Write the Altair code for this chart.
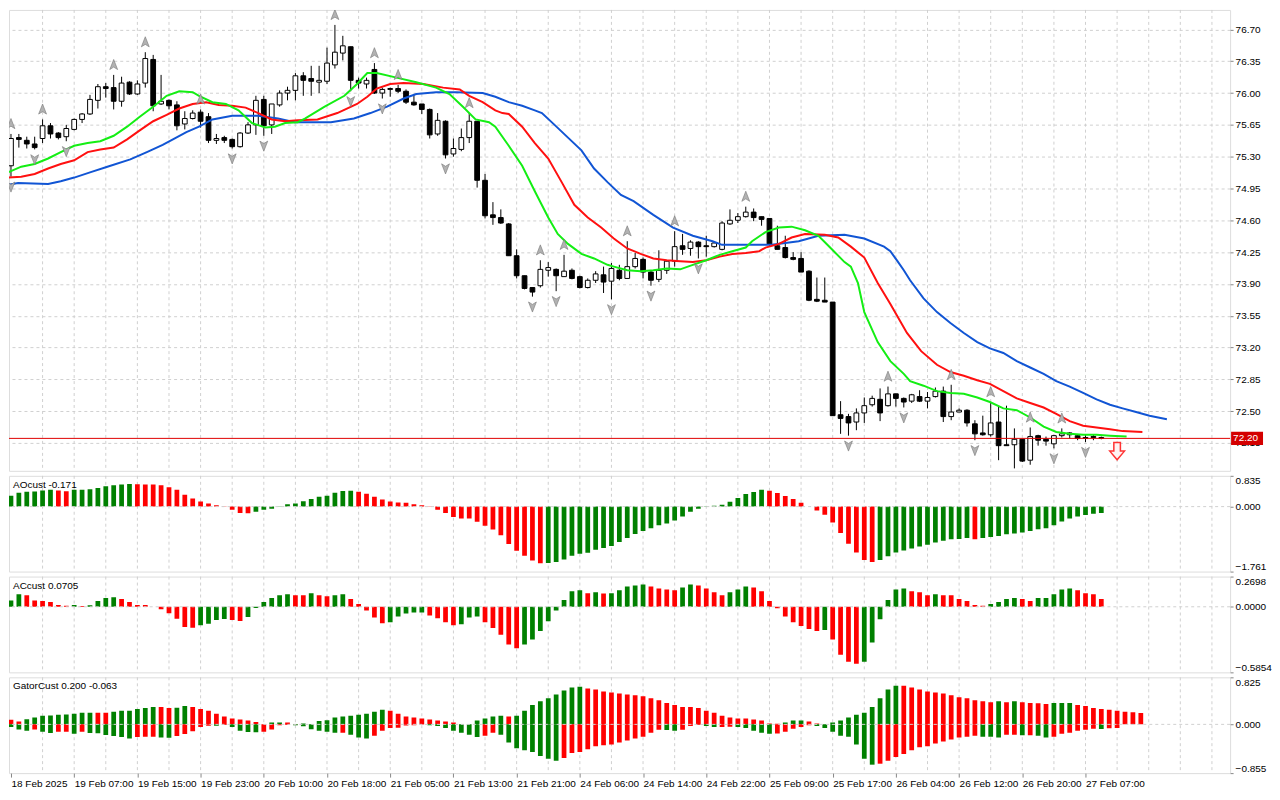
import altair as alt
import pandas as pd

# ---------------- data ----------------
OPEN = [75.20,75.51,75.48,75.44,75.50,75.64,75.56,75.52,75.60,75.71,
        75.77,75.92,76.07,76.06,75.91,76.12,75.99,76.11,76.37,75.88,
        75.92,75.87,75.66,75.72,75.79,75.74,75.48,75.51,75.49,75.41,
        75.56,75.65,75.93,75.65,75.87,76.00,76.03,76.19,76.16,76.12,
        76.13,76.31,76.44,76.51,76.14,76.10,76.26,76.00,76.04,76.05,
        76.02,75.90,75.88,75.82,75.55,75.69,75.33,75.38,75.51,75.69,
        75.04,74.66,74.63,74.56,74.21,73.99,73.86,73.88,74.05,74.06,
        73.98,74.05,73.98,73.86,73.94,74.00,73.93,74.05,73.96,74.09,
        74.17,74.03,73.95,74.05,74.15,74.32,74.29,74.36,74.32,74.31,
        74.28,74.56,74.60,74.64,74.69,74.64,74.62,74.32,74.30,74.19,
        74.18,74.04,73.73,73.72,73.70,72.46,72.44,72.38,72.48,72.57,
        72.63,72.56,72.69,72.64,72.61,72.66,72.61,72.66,72.72,72.44,
        72.49,72.51,72.36,72.26,72.24,72.38,72.13,72.13,72.19,71.96,
        72.23,72.19,72.14,72.23,72.24,72.23,72.21,72.22,72.21]
HIGH = [75.55,75.55,75.52,75.52,75.71,75.67,75.57,75.65,75.72,75.78,
        75.98,76.10,76.11,76.20,76.18,76.13,76.14,76.45,76.42,76.20,
        75.93,75.91,75.80,75.81,75.82,75.78,75.55,75.53,75.50,75.57,
        75.68,75.97,75.97,75.88,76.03,76.07,76.22,76.23,76.30,76.30,
        76.50,76.75,76.63,76.51,76.17,76.17,76.33,76.06,76.06,76.09,
        76.04,75.99,75.88,75.83,75.78,75.70,75.50,75.61,75.78,75.69,
        75.11,74.80,74.72,74.57,74.28,73.99,73.86,74.16,74.14,74.07,
        74.22,74.07,73.99,73.96,74.04,74.09,74.13,74.11,74.37,74.24,
        74.19,74.05,74.27,74.16,74.48,74.45,74.38,74.37,74.43,74.37,
        74.59,74.72,74.68,74.75,74.73,74.64,74.62,74.54,74.43,74.25,
        74.25,74.05,73.97,73.97,73.70,72.61,72.47,72.53,72.65,72.67,
        72.75,72.77,72.69,72.65,72.69,72.73,72.71,72.76,72.77,72.79,
        72.53,72.52,72.40,72.45,72.60,72.56,72.56,72.31,72.19,72.32,
        72.24,72.22,72.24,72.31,72.27,72.24,72.24,72.24,72.22]
LOW = [75.08,75.40,75.39,75.38,75.45,75.50,75.49,75.47,75.59,75.67,
       75.76,75.83,75.95,75.82,75.85,75.98,75.98,76.06,75.80,75.87,
       75.82,75.59,75.60,75.71,75.62,75.45,75.44,75.45,75.39,75.40,
       75.55,75.54,75.53,75.55,75.85,75.92,75.92,75.97,75.97,76.00,
       76.10,76.27,76.36,76.02,76.05,76.05,75.99,75.94,75.96,76.00,
       75.88,75.86,75.77,75.50,75.53,75.28,75.30,75.36,75.45,74.96,
       74.62,74.55,74.56,74.21,73.96,73.84,73.76,73.86,73.98,73.82,
       73.98,73.95,73.85,73.85,73.91,73.80,73.73,73.94,73.96,74.07,
       73.96,73.88,73.92,74.01,74.09,74.22,74.21,74.18,74.20,74.30,
       74.27,74.55,74.57,74.63,74.59,74.54,74.32,74.28,74.18,74.16,
       74.03,73.71,73.70,73.70,72.45,72.25,72.23,72.29,72.37,72.55,
       72.39,72.55,72.55,72.54,72.59,72.60,72.53,72.65,72.38,72.40,
       72.49,72.33,72.18,72.23,72.22,71.96,72.12,71.87,71.94,71.91,
       72.12,72.12,72.09,72.21,72.20,72.18,72.16,72.18,72.19]
CLOSE = [75.50,75.49,75.44,75.40,75.64,75.55,75.51,75.61,75.71,75.77,
         75.93,76.07,76.05,75.91,76.11,75.99,76.10,76.38,75.86,75.91,
         75.86,75.64,75.72,75.78,75.69,75.48,75.50,75.48,75.41,75.56,
         75.65,75.92,75.64,75.88,76.00,76.03,76.19,76.14,76.13,76.14,
         76.33,76.45,76.52,76.14,76.11,76.14,76.00,76.04,76.05,76.02,
         75.90,75.87,75.82,75.54,75.70,75.32,75.39,75.51,75.69,75.04,
         74.65,74.63,74.57,74.21,73.99,73.85,73.81,74.06,74.08,73.99,
         74.04,73.96,73.86,73.94,74.01,73.92,74.07,73.96,74.09,74.18,
         74.03,73.94,74.05,74.15,74.31,74.28,74.36,74.31,74.31,74.35,
         74.57,74.60,74.64,74.69,74.63,74.61,74.34,74.28,74.19,74.17,
         74.03,73.72,73.71,73.70,72.45,72.42,72.37,72.48,72.56,72.64,
         72.48,72.69,72.64,72.60,72.68,72.61,72.65,72.72,72.44,72.49,
         72.51,72.37,72.25,72.24,72.37,72.12,72.12,72.19,71.95,72.22,
         72.18,72.17,72.23,72.25,72.26,72.20,72.20,72.21,72.20]

JAW_X = [-0.3,0.9,4.7,6.3,8.0,10.1,12.2,15.1,17.2,19.2,20.5,22.2,23.8,25.5,28.0,
         31.3,33.8,35.9,40.5,43.4,45.5,47.6,49.7,51.3,53.8,56.3,59.7,61.3,63.0,64.7,
         66.3,67.2,68.8,70.5,72.2,73.8,75.5,77.2,78.8,81.3,83.8,86.3,88.8,90.0,93.0,
         96.3,99.7,102.2,105.5,108.0,110.5,111.3,112.2,113.0,113.8,115.5,117.2,118.9,
         120.6,122.3,123.9,125.6,127.3,129.0,130.7,132.3,134.0,135.7,137.4,139.1,
         140.7,142.4,144.1,146.3]
JAW_Y = [74.99,75.01,75.00,75.03,75.07,75.13,75.19,75.27,75.35,75.43,75.49,75.57,75.63,75.71,75.75,
         75.75,75.72,75.68,75.68,75.72,75.78,75.85,75.94,75.99,76.01,76.01,76.00,75.96,75.90,75.86,
         75.81,75.78,75.65,75.51,75.37,75.17,75.02,74.88,74.81,74.66,74.52,74.43,74.37,74.33,74.33,
         74.33,74.37,74.43,74.44,74.40,74.31,74.26,74.15,74.05,73.94,73.74,73.59,73.47,
         73.36,73.26,73.19,73.14,73.05,72.98,72.91,72.83,72.77,72.70,72.63,72.57,
         72.53,72.49,72.45,72.41]
TEETH_X = [-0.3,1.3,3.0,4.7,6.3,8.0,9.7,11.3,13.0,14.7,16.3,18.0,19.7,21.3,23.0,
           24.7,26.3,28.0,29.7,31.3,33.0,34.7,36.3,38.8,41.3,43.8,45.1,46.3,48.0,49.7,
           52.2,54.7,56.8,58.0,59.7,61.3,62.2,63.0,64.7,66.3,68.0,69.7,71.3,73.0,74.7,
           76.3,78.0,79.7,81.3,83.0,84.7,86.3,88.0,89.7,91.3,93.0,94.7,95.5,97.2,98.8,
           100.5,103.0,104.7,106.3,108.0,109.7,111.3,113.4,115.2,117.2,118.9,120.6,
           122.3,123.9,125.6,127.3,129.0,130.7,132.3,134.0,135.7,137.4,139.1,140.7,143.2]
TEETH_Y = [75.07,75.08,75.11,75.17,75.22,75.26,75.35,75.38,75.40,75.49,75.59,75.69,75.76,75.83,75.88,
           75.90,75.87,75.86,75.84,75.78,75.71,75.69,75.70,75.71,75.78,75.88,75.96,76.05,76.10,76.11,
           76.10,76.06,76.04,75.97,75.90,75.81,75.78,75.77,75.63,75.45,75.28,75.02,74.77,74.63,74.52,
           74.40,74.29,74.23,74.18,74.16,74.15,74.14,74.16,74.20,74.23,74.24,74.26,74.30,74.34,74.41,
           74.45,74.44,74.41,74.31,74.19,73.91,73.68,73.36,73.16,73.01,72.93,72.89,
           72.84,72.80,72.72,72.64,72.59,72.54,72.47,72.39,72.34,72.32,72.30,72.28,72.27]
LIPS_X = [-0.3,1.3,3.0,4.7,6.3,8.0,9.7,11.3,13.0,14.7,16.3,18.0,19.7,21.3,23.0,
          23.8,25.5,27.2,28.8,30.5,32.2,33.4,34.7,36.3,37.2,39.7,42.2,43.8,45.1,46.3,
          48.8,51.3,53.8,55.5,57.2,58.8,60.5,61.3,63.0,64.7,66.3,68.0,69.2,70.5,72.2,
          73.8,75.5,76.3,78.0,79.7,81.3,83.0,84.7,86.3,88.0,89.7,91.3,93.0,93.8,95.5,
          97.2,98.8,100.5,102.2,103.8,105.5,106.3,107.2,108.0,109.7,111.3,113.0,113.8,
          115.5,117.2,118.9,120.6,122.3,123.9,125.6,127.3,129.0,130.7,132.3,134.0,
          135.7,137.4,139.1,141.2]
LIPS_Y = [75.13,75.19,75.22,75.28,75.35,75.42,75.45,75.47,75.53,75.63,75.74,75.85,75.97,76.02,76.01,
          75.97,75.90,75.88,75.81,75.67,75.62,75.63,75.67,75.68,75.72,75.85,75.97,76.10,76.22,76.22,
          76.17,76.12,76.06,75.99,75.85,75.71,75.68,75.63,75.42,75.20,74.92,74.63,74.45,74.34,74.23,
          74.18,74.11,74.09,74.05,74.04,74.05,74.07,74.06,74.11,74.16,74.22,74.26,74.30,74.37,74.47,
          74.52,74.53,74.49,74.43,74.29,74.14,74.09,73.91,73.59,73.26,73.05,72.91,72.83,
          72.78,72.72,72.70,72.69,72.65,72.60,72.53,72.51,72.43,72.33,72.27,72.25,
          72.24,72.24,72.23,72.22]

FRACTAL_UP = [0,4,13,17,24,41,46,49,58,67,70,78,84,93,111,119,124,129,133]
FRACTAL_DN = [0,3,7,28,32,43,47,55,66,69,76,81,87,106,113,122,127,132,136]

AO = [0.297,0.376,0.402,0.411,0.437,0.455,0.437,0.420,0.455,0.460,
      0.470,0.507,0.550,0.577,0.603,0.612,0.607,0.603,0.598,0.577,
      0.524,0.455,0.323,0.219,0.140,0.087,0.035,0.009,-0.087,-0.175,
      -0.178,-0.140,-0.087,-0.060,-0.005,0.061,0.087,0.149,0.210,0.270,
      0.297,0.376,0.425,0.432,0.400,0.350,0.270,0.192,0.140,0.114,
      0.105,0.061,0.035,0.010,-0.087,-0.175,-0.280,-0.323,-0.325,-0.410,
      -0.516,-0.620,-0.778,-1.014,-1.198,-1.329,-1.460,-1.535,-1.528,-1.503,
      -1.434,-1.329,-1.276,-1.250,-1.171,-1.119,-1.066,-0.962,-0.848,-0.743,
      -0.664,-0.586,-0.507,-0.455,-0.376,-0.271,-0.140,-0.061,-0.005,0.026,
      0.052,0.131,0.236,0.341,0.393,0.455,0.428,0.367,0.288,0.210,
      0.105,0.005,-0.105,-0.219,-0.428,-0.716,-1.005,-1.241,-1.450,-1.503,
      -1.450,-1.346,-1.241,-1.189,-1.136,-1.084,-1.031,-0.970,-0.927,-0.883,
      -0.880,-0.848,-0.883,-0.848,-0.822,-0.795,-0.752,-0.726,-0.700,-0.664,
      -0.612,-0.586,-0.507,-0.402,-0.323,-0.271,-0.225,-0.190,-0.171]
AC = [0.057,0.112,0.103,0.057,0.052,0.043,0.017,0.009,0.017,0.006,
      0.014,0.052,0.078,0.086,0.069,0.043,0.017,0.016,0.000,-0.023,
      -0.057,-0.106,-0.181,-0.187,-0.164,-0.152,-0.118,-0.109,-0.118,-0.126,
      -0.092,-0.011,0.043,0.078,0.103,0.112,0.103,0.102,0.121,0.103,
      0.095,0.103,0.112,0.069,0.026,-0.034,-0.095,-0.147,-0.138,-0.086,
      -0.060,-0.052,-0.051,-0.078,-0.103,-0.138,-0.164,-0.155,-0.095,-0.086,
      -0.138,-0.190,-0.250,-0.336,-0.371,-0.336,-0.293,-0.216,-0.129,-0.034,
      0.060,0.138,0.147,0.121,0.129,0.119,0.122,0.147,0.181,0.190,
      0.198,0.181,0.164,0.155,0.147,0.172,0.198,0.190,0.164,0.129,
      0.103,0.129,0.155,0.181,0.172,0.138,0.052,-0.014,-0.086,-0.138,
      -0.172,-0.198,-0.216,-0.207,-0.293,-0.428,-0.491,-0.509,-0.491,-0.319,
      -0.112,0.060,0.155,0.164,0.138,0.129,0.103,0.112,0.103,0.102,
      0.069,0.052,0.017,0.009,0.026,0.043,0.069,0.078,0.069,0.052,
      0.078,0.079,0.112,0.155,0.164,0.147,0.121,0.112,0.0705]
GATOR_UP = [0.079,0.051,0.090,0.119,0.153,0.155,0.170,0.171,0.187,0.204,
            0.205,0.203,0.202,0.220,0.238,0.240,0.270,0.288,0.305,0.304,
            0.288,0.290,0.322,0.305,0.270,0.238,0.187,0.136,0.102,0.085,
            0.068,0.040,0.002,0.034,0.035,0.034,0.005,0.017,0.003,0.057,
            0.074,0.119,0.136,0.153,0.170,0.187,0.220,0.255,0.238,0.187,
            0.136,0.119,0.102,0.085,0.068,0.051,0.034,0.003,0.002,0.068,
            0.102,0.136,0.153,0.136,0.153,0.238,0.339,0.407,0.458,0.526,
            0.594,0.645,0.662,0.628,0.611,0.577,0.560,0.543,0.526,0.509,
            0.492,0.458,0.424,0.373,0.339,0.305,0.304,0.288,0.238,0.204,
            0.153,0.119,0.102,0.101,0.085,0.068,0.017,0.010,0.034,0.068,
            0.069,0.051,0.017,0.003,0.034,0.068,0.119,0.170,0.204,0.305,
            0.458,0.611,0.679,0.678,0.645,0.611,0.577,0.560,0.543,0.509,
            0.475,0.458,0.424,0.407,0.390,0.407,0.390,0.407,0.390,0.373,
            0.372,0.356,0.373,0.374,0.375,0.339,0.322,0.288,0.271,0.255,
            0.238,0.220,0.212,0.200]
GATOR_DN = [-0.045,-0.090,-0.113,-0.090,-0.130,-0.153,-0.130,-0.129,-0.164,-0.130,
            -0.153,-0.154,-0.187,-0.204,-0.220,-0.249,-0.220,-0.219,-0.218,-0.232,
            -0.233,-0.204,-0.170,-0.119,-0.045,-0.023,-0.024,-0.011,-0.045,-0.113,
            -0.136,-0.137,-0.130,-0.090,-0.017,-0.011,-0.017,-0.034,-0.085,-0.113,
            -0.130,-0.147,-0.146,-0.181,-0.232,-0.249,-0.198,-0.113,-0.062,-0.061,
            -0.020,-0.017,-0.003,-0.017,-0.028,-0.062,-0.113,-0.147,-0.181,-0.220,
            -0.198,-0.147,-0.181,-0.317,-0.419,-0.452,-0.486,-0.554,-0.605,-0.639,
            -0.588,-0.503,-0.486,-0.435,-0.385,-0.368,-0.351,-0.317,-0.283,-0.249,
            -0.215,-0.147,-0.096,-0.097,-0.113,-0.096,-0.028,-0.011,-0.028,-0.045,
            -0.044,-0.043,-0.045,-0.062,-0.113,-0.147,-0.164,-0.160,-0.130,-0.079,
            -0.045,-0.017,-0.028,-0.062,-0.130,-0.198,-0.215,-0.351,-0.605,-0.707,
            -0.690,-0.639,-0.571,-0.520,-0.452,-0.402,-0.385,-0.334,-0.300,-0.266,
            -0.232,-0.215,-0.198,-0.215,-0.216,-0.232,-0.181,-0.180,-0.192,-0.190,
            -0.198,-0.232,-0.215,-0.164,-0.147,-0.113,-0.096,-0.079,-0.080,-0.066,
            -0.063]

TIME_LABELS = ["18 Feb 2025","19 Feb 07:00","19 Feb 15:00","19 Feb 23:00","20 Feb 10:00",
               "20 Feb 18:00","21 Feb 05:00","21 Feb 13:00","21 Feb 21:00","24 Feb 06:00",
               "24 Feb 14:00","24 Feb 22:00","25 Feb 09:00","25 Feb 17:00","26 Feb 04:00",
               "26 Feb 12:00","26 Feb 20:00","27 Feb 07:00"]
LABEL_IDX = list(range(0, 137, 8))
GRID_IDX = list(range(4, 155, 4))
PRICE_TICKS = [72.15,72.50,72.85,73.20,73.55,73.90,74.25,74.60,74.95,75.30,75.65,76.00,76.35,76.70]
LAST_PRICE = 72.20
SIGNAL_IDX = [140]
SIGNAL_PRICE = [72.06]
AO_RANGE = [-1.761, 0.835]
AC_RANGE = [-0.5854, 0.2698]
GATOR_RANGE = [-0.855, 0.825]

# ---------------- styling ----------------
FONT = "Liberation Sans"
GRID = "#d0d0d0"
GREEN = "#008000"
RED = "#ff0000"
W = 1224
HM = 462
HS = 96
HALF = 0.3

xs = alt.Scale(domain=[-0.25, 154.3], nice=False, zero=False)
ys = alt.Scale(domain=[71.843, 76.915], nice=False, zero=False)
Y_AX = alt.Axis(orient="right", values=PRICE_TICKS, format=".2f", grid=True,
                gridColor=GRID, gridDash=[3, 3], tickSize=3, labelPadding=2,
                domain=False, labelFontSize=10, title=None)

def Y(field):
    return alt.Y(field, scale=ys, axis=Y_AX, title=None)

def X(field):
    return alt.X(field, scale=xs, axis=None, title=None)

# ---------------- frames ----------------
n = len(OPEN)
cd = pd.DataFrame({"i": range(n), "o": OPEN, "h": HIGH, "l": LOW, "c": CLOSE})
cd["top"] = cd[["o", "c"]].max(axis=1)
cd["bot"] = cd[["o", "c"]].min(axis=1)
cd["x0"] = cd["i"] - HALF
cd["x1"] = cd["i"] + HALF

grid_df = pd.DataFrame({"g": GRID_IDX})
fup = cd.loc[FRACTAL_UP, ["i", "h"]]
fdn = cd.loc[FRACTAL_DN, ["i", "l"]]

def colored(vals, use_abs=False, first="g"):
    df = pd.DataFrame({"i": range(len(vals)), "v": vals})
    m = df["v"].abs() if use_abs else df["v"]
    col = ["g" if m.iloc[k] > m.iloc[k - 1] else "r" for k in range(1, len(m))]
    df["col"] = [first] + col
    df["x0"] = df["i"] - HALF
    df["x1"] = df["i"] + HALF
    df["z"] = 0.0
    return df

ao_df = colored(AO)
ac_df = colored(AC)
gu_df = colored(GATOR_UP, use_abs=True, first="r")
gd_df = colored(GATOR_DN, use_abs=True, first="g")

UP_ARROW = "M0,-1L0.72,0.85L0,0.4L-0.72,0.85Z"
DN_ARROW = "M0,1L0.72,-0.85L0,-0.4L-0.72,-0.85Z"
SIG_ARROW = "M-0.38,-1L0.38,-1L0.38,0L0.85,0L0,1L-0.85,0L-0.38,0Z"

# ---------------- main panel ----------------
vgrid = alt.Chart(grid_df).mark_rule(color=GRID, strokeDash=[3, 3], strokeWidth=1).encode(x=X("g:Q"))

wicks = alt.Chart(cd).mark_rule(color="black", strokeWidth=1, clip=True).encode(
    x=X("i:Q"), y=Y("l:Q"), y2="h:Q")

bodies = alt.Chart(cd).mark_rect(stroke="black", strokeWidth=1, clip=True).encode(
    x=X("x0:Q"), x2="x1:Q", y=Y("top:Q"), y2="bot:Q",
    fill=alt.condition("datum.c > datum.o", alt.value("white"), alt.value("black")))

def line_layer(xv, yv, color):
    df = pd.DataFrame({"x": xv, "y": yv})
    return alt.Chart(df).mark_line(color=color, strokeWidth=2, clip=True).encode(
        x=X("x:Q"), y=Y("y:Q"))

jaw = line_layer(JAW_X, JAW_Y, "#1155d4")
teeth = line_layer(TEETH_X, TEETH_Y, "#ff1010")
lips = line_layer(LIPS_X, LIPS_Y, "#14ee14")

f_up = alt.Chart(fup).mark_point(shape=UP_ARROW, filled=True, fill="#b2b2b2", stroke="#777777",
                                 strokeWidth=0.6, size=120, yOffset=-10, opacity=1, clip=True).encode(
    x=X("i:Q"), y=Y("h:Q"))
f_dn = alt.Chart(fdn).mark_point(shape=DN_ARROW, filled=True, fill="#b2b2b2", stroke="#777777",
                                 strokeWidth=0.6, size=120, yOffset=10, opacity=1, clip=True).encode(
    x=X("i:Q"), y=Y("l:Q"))

price_df = pd.DataFrame({"p": [LAST_PRICE], "hi": [LAST_PRICE + 0.072], "lo": [LAST_PRICE - 0.072],
                         "t": [f"{LAST_PRICE:.2f}"]})
price_line = alt.Chart(price_df).mark_rule(color="#e00000", strokeWidth=1).encode(y=Y("p:Q"))
price_tag = alt.Chart(price_df).mark_rect(color="#d40000").encode(
    x=alt.value(W + 1), x2=alt.value(W + 33), y=Y("hi:Q"), y2="lo:Q")
price_txt = alt.Chart(price_df).mark_text(color="white", align="left", baseline="middle",
                                          fontSize=10, font=FONT).encode(
    x=alt.value(W + 3), y=Y("p:Q"), text="t:N")

sig_df = pd.DataFrame({"i": SIGNAL_IDX, "p": SIGNAL_PRICE})
signal = alt.Chart(sig_df).mark_point(shape=SIG_ARROW, filled=True, fill="#fff4f4", stroke="#ff3333",
                                      strokeWidth=1.5, size=300, opacity=1).encode(
    x=X("i:Q"), y=Y("p:Q"))

main = alt.layer(vgrid, wicks, bodies, jaw, teeth, lips, f_up, f_dn, price_line,
                 signal, price_tag, price_txt).properties(width=W, height=HM)

# ---------------- sub panels ----------------
label_js = "[" + ",".join("'" + s + "'" for s in TIME_LABELS) + "][round(datum.value/8)]"
X_AX = alt.Axis(values=LABEL_IDX, labelExpr=label_js, labelAlign="left", tickSize=4,
                labelPadding=1, domain=False, grid=False, title=None, labelFontSize=10,
                labelFlush=False, labelOverlap=False, labelBound=False)

def sub_panel(frames, rng, fmt, title, bottom=False):
    ysc = alt.Scale(domain=rng, nice=False, zero=False)
    yax = alt.Axis(orient="right", values=[rng[0], 0, rng[1]], format=fmt, grid=False,
                   tickSize=3, labelPadding=2, domain=False, labelFlush=True,
                   labelFontSize=10, title=None)
    xax = X_AX if bottom else None

    def XS(field):
        return alt.X(field, scale=xs, axis=xax, title=None)

    def YS(field):
        return alt.Y(field, scale=ysc, axis=yax, title=None)

    g = alt.Chart(grid_df).mark_rule(color=GRID, strokeDash=[3, 3], strokeWidth=1).encode(x=XS("g:Q"))
    zero = alt.Chart(pd.DataFrame({"z": [0.0]})).mark_rule(
        color=GRID, strokeDash=[3, 3], strokeWidth=1).encode(y=YS("z:Q"))
    layers = [g]
    for df in frames:
        layers.append(alt.Chart(df).mark_rect(clip=True).encode(
            x=XS("x0:Q"), x2="x1:Q", y=YS("v:Q"), y2="z:Q",
            fill=alt.condition("datum.col == 'g'", alt.value(GREEN), alt.value(RED))))
    layers.append(zero)
    t = alt.Chart(pd.DataFrame({"t": [title]})).mark_text(
        align="left", baseline="top", fontSize=10, font=FONT, color="black").encode(
        x=alt.value(4), y=alt.value(4), text="t:N")
    layers.append(t)
    return alt.layer(*layers).properties(width=W, height=HS)

ao_panel = sub_panel([ao_df], AO_RANGE, ".3f", "AOcust -0.171")
ac_panel = sub_panel([ac_df], AC_RANGE, ".4f", "ACcust 0.0705")
gator_panel = sub_panel([gu_df, gd_df], GATOR_RANGE, ".3f", "GatorCust 0.200 -0.063", bottom=True)

chart = alt.vconcat(main, ao_panel, ac_panel, gator_panel, spacing=3).properties(
    padding={"left": 0, "top": 0, "right": 0, "bottom": 0}
).configure_view(stroke="black", strokeWidth=1).configure_axis(
    labelFont=FONT, labelColor="black", tickColor="black", labelFontSize=10
).configure(background="white")

chart.save("out.html", embed_options={"renderer": "svg", "actions": False})
